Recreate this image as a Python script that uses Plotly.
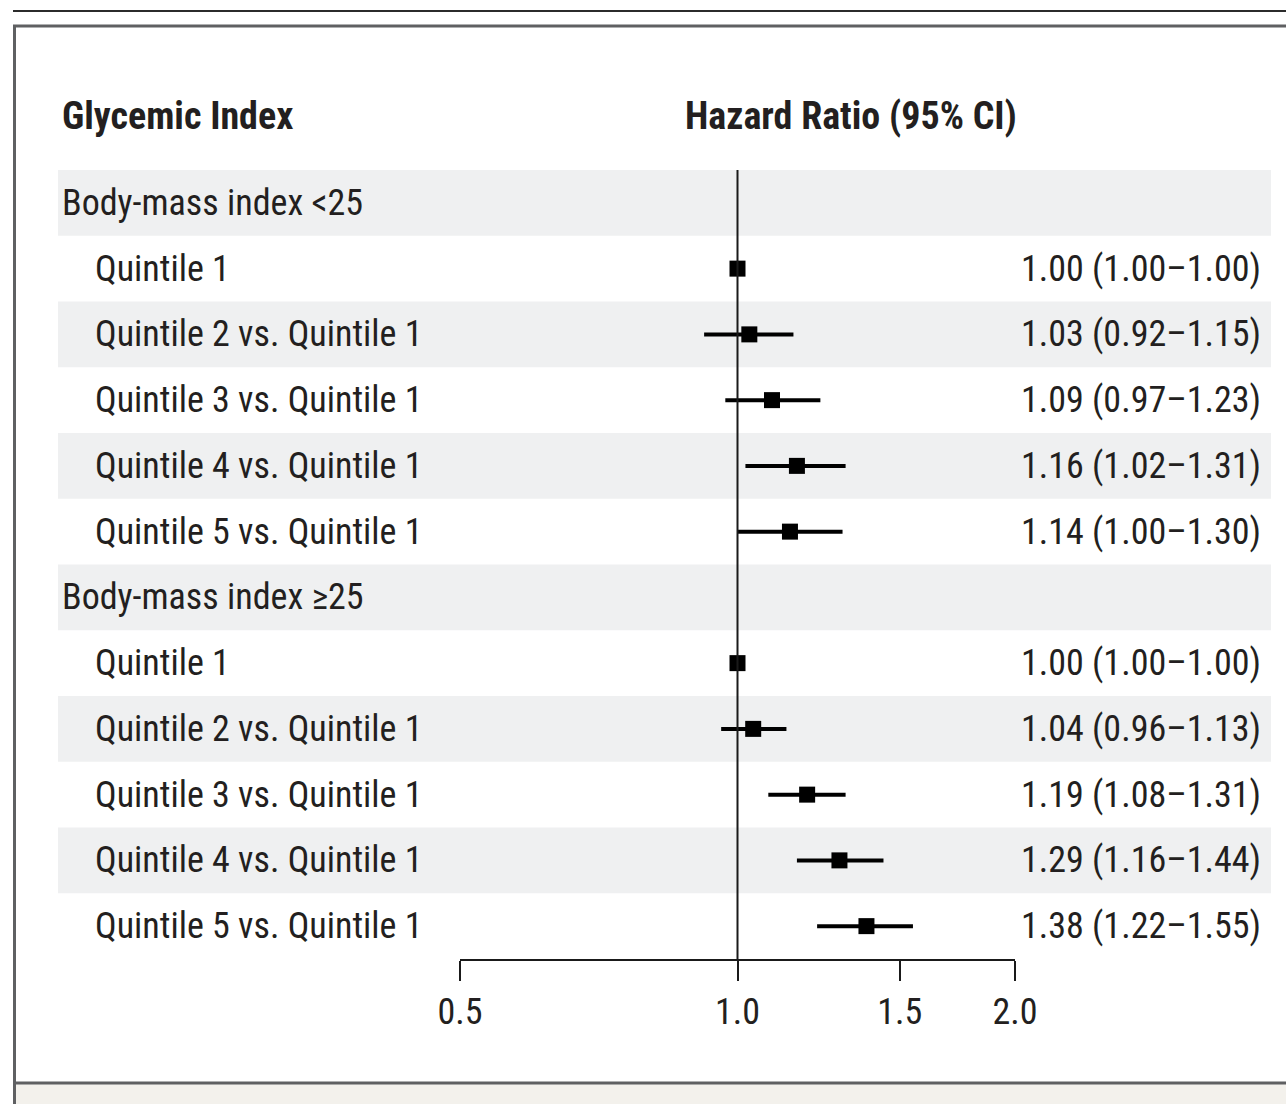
import math
import plotly.graph_objects as go

# ---- data ----
groups = ["Body-mass index <25", "Body-mass index \u226525"]
quintiles = ["Quintile 1", "Quintile 2 vs. Quintile 1", "Quintile 3 vs. Quintile 1",
             "Quintile 4 vs. Quintile 1", "Quintile 5 vs. Quintile 1"]
hr_lt25 = [1.00, 1.03, 1.09, 1.16, 1.14]
lo_lt25 = [1.00, 0.92, 0.97, 1.02, 1.00]
hi_lt25 = [1.00, 1.15, 1.23, 1.31, 1.30]
hr_ge25 = [1.00, 1.04, 1.19, 1.29, 1.38]
lo_ge25 = [1.00, 0.96, 1.08, 1.16, 1.22]
hi_ge25 = [1.00, 1.13, 1.31, 1.44, 1.55]
tick_vals = [0.5, 1.0, 1.5, 2.0]
tick_text = ["0.5", "1.0", "1.5", "2.0"]

# ---- layout geometry (pixels) ----
W, H = 1286, 1104
ML, MR, MT, MB = 460, 271, 170, 145
PW, PH = W - ML - MR, H - MT - MB


def px(x):
    return (x - ML) / PW


def py(y):
    return (H - MB - y) / PH


FONT = "Roboto Condensed, Liberation Sans Narrow, sans-serif"
TXT = "#231f20"
FS = 36

# rows
rows = []  # (label, indent, hr, lo, hi)
for g, hrs, los, his in [(groups[0], hr_lt25, lo_lt25, hi_lt25),
                         (groups[1], hr_ge25, lo_ge25, hi_ge25)]:
    rows.append((g, False, None, None, None))
    for q, h, l, u in zip(quintiles, hrs, los, his):
        rows.append((q, True, h, l, u))

ys, hrs_all, plus, minus = [], [], [], []
for i, (lab, ind, h, l, u) in enumerate(rows):
    if h is not None:
        ys.append(i)
        hrs_all.append(h)
        plus.append(u - h)
        minus.append(h - l)

fig = go.Figure()
fig.add_trace(go.Scatter(
    x=hrs_all, y=ys, mode="markers",
    marker=dict(symbol="square", size=16, color="black"),
    error_x=dict(type="data", symmetric=False, array=plus, arrayminus=minus,
                 thickness=4, width=0, color="black"),
    hoverinfo="skip", showlegend=False,
))

shapes = []
# shaded bands
for i in range(0, len(rows), 2):
    shapes.append(dict(type="rect", xref="paper", yref="y", x0=px(58), x1=px(1271),
                       y0=i - 0.5, y1=i + 0.5, fillcolor="#eff0f1", line_width=0,
                       layer="below"))
# reference line at HR = 1
shapes.append(dict(type="line", xref="x", yref="y domain", x0=1, x1=1, y0=0, y1=1,
                   line=dict(color="#1a1a1a", width=2)))
# frame
shapes.append(dict(type="rect", xref="paper", yref="paper", x0=px(15), x1=px(1300),
                   y0=py(1104), y1=py(1084), fillcolor="#f3f1ec", line_width=0))
shapes.append(dict(type="line", xref="paper", yref="paper", x0=px(13), x1=px(1290),
                   y0=py(11), y1=py(11), line=dict(color="#2b2b2b", width=2)))
shapes.append(dict(type="line", xref="paper", yref="paper", x0=px(13), x1=px(1290),
                   y0=py(26), y1=py(26), line=dict(color="#5f6062", width=3)))
shapes.append(dict(type="line", xref="paper", yref="paper", x0=px(14.5), x1=px(14.5),
                   y0=py(26), y1=py(1104), line=dict(color="#5f6062", width=3)))
shapes.append(dict(type="line", xref="paper", yref="paper", x0=px(13), x1=px(1290),
                   y0=py(1083), y1=py(1083), line=dict(color="#5f6062", width=3)))

annotations = []
annotations.append(dict(text="<b>Glycemic Index</b>", xref="paper", yref="paper",
                        x=px(60), y=py(116), xanchor="left", yanchor="middle",
                        showarrow=False, font=dict(family=FONT, size=38, color=TXT)))
annotations.append(dict(text="<b>Hazard Ratio (95% CI)</b>", xref="paper", yref="paper",
                        x=px(851), y=py(116), xanchor="center", yanchor="middle",
                        showarrow=False, font=dict(family=FONT, size=38, color=TXT)))
for i, (lab, ind, h, l, u) in enumerate(rows):
    annotations.append(dict(text=lab, xref="paper", yref="y",
                            x=px(93 if ind else 60), y=i, xanchor="left",
                            yanchor="middle", showarrow=False,
                            font=dict(family=FONT, size=FS, color=TXT)))
    if h is not None:
        annotations.append(dict(text=f"{h:.2f} ({l:.2f}\u2013{u:.2f})", xref="paper",
                                yref="y", x=px(1263), y=i, xanchor="right",
                                yanchor="middle", showarrow=False,
                                font=dict(family=FONT, size=FS, color=TXT)))

fig.update_layout(
    width=W, height=H,
    margin=dict(l=ML, r=MR, t=MT, b=MB, pad=0),
    paper_bgcolor="white", plot_bgcolor="rgba(0,0,0,0)",
    shapes=shapes, annotations=annotations,
    xaxis=dict(type="log", range=[math.log10(0.5), math.log10(2.0)],
               tickvals=tick_vals, ticktext=tick_text, showline=True, linewidth=2,
               linecolor="#1a1a1a", ticks="outside", ticklen=20, tickwidth=2,
               tickcolor="#1a1a1a", showgrid=False, zeroline=False,
               tickfont=dict(family=FONT, size=FS, color=TXT)),
    yaxis=dict(range=[11.5, -0.5], visible=False, showgrid=False, zeroline=False),
)
fig.write_html("out.html")
